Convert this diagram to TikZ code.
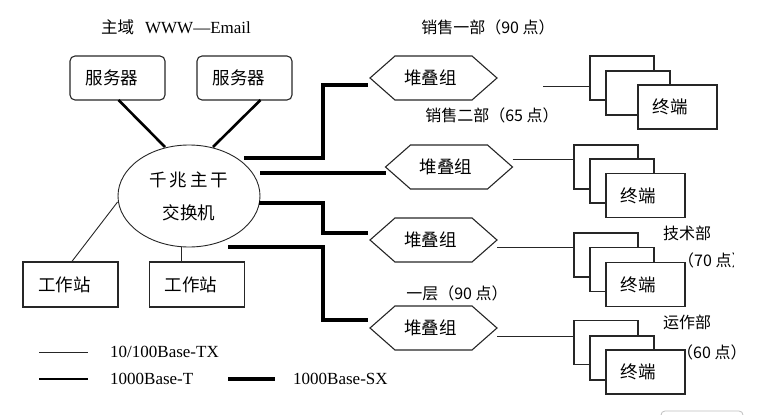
\documentclass[tikz,border=0pt]{standalone}
\usepackage{fontspec}
\setmainfont{Liberation Serif}
\newfontfamily\cjk{Noto Sans CJK SC}
\usetikzlibrary{shapes.geometric,calc}
\begin{document}
\begin{tikzpicture}[x=1pt,y=-1pt,
  box/.style={draw=black!85, line width=1.1pt, inner sep=0pt, outer sep=0pt, font=\cjk\fontsize{17.5}{20}\selectfont},
  srv/.style={box, rounded corners=5pt, minimum width=95pt, minimum height=44pt},
  ws/.style={box, minimum width=95pt, minimum height=45pt},
  term/.style={box, fill=white, minimum width=64pt, minimum height=44pt},
  termc/.style={term, minimum width=79pt},
  hexn/.style={inner sep=0pt, outer sep=0pt, minimum width=127pt, minimum height=44pt, font=\cjk\fontsize{17.5}{20}\selectfont},
  hexline/.style={line width=1.1pt, draw=black!85},
  lbl/.style={inner sep=0pt, font=\cjk\fontsize{16}{19}\selectfont},
  leg/.style={inner sep=0pt, anchor=west, font=\fontsize{17}{20}\selectfont},
  tx/.style={line width=0.9pt, draw=black!85},
  bt/.style={line width=2.6pt, draw=black},
  sx/.style={line width=4pt, draw=black},
]
\useasboundingbox (0,0) rectangle (769,415);

% title and labels
\node[inner sep=0pt, font=\fontsize{17}{20}\selectfont] (title) at (176,27) {{\cjk\fontsize{16.5}{19}\selectfont 主域}\hspace{11pt}WWW—Email};
\node[lbl] (l1) at (488,27) {销售一部（90 点）};
\node[lbl] (l2) at (492,115) {销售二部（65 点）};
\node[lbl] (l5) at (457,293) {一层（90 点）};

% servers, switch, workstations
\node[srv] (s1) at (117.5,78) {服务器\hspace*{11pt}};
\node[srv] (s2) at (244.5,78) {服务器\hspace*{11pt}};
\node[draw=black!85, line width=0.9pt, ellipse, minimum width=142pt, minimum height=102pt, inner sep=0pt, align=center, font=\cjk\fontsize{17.5}{33}\selectfont] (e) at (189,196) {千\kern3pt 兆\kern3pt 主\kern3pt 干\\交换机};
\node[ws] (w1) at (70.5,284.5) {工作站\hspace*{12pt}};
\node[ws] (w2) at (197,284.5) {工作站\hspace*{12pt}};

\draw[bt] ($(s1.south)+(1,0)$) -- ($(e.center)+(-24,-49)$);
\draw[bt] ($(s2.south)+(16,0)$) -- ($(e.center)+(24,-49)$);
\draw[tx] ($(w1.north)+(1,0)$) -- ($(e.west)+(0,6)$);
\draw[tx] ($(e.south)+(-8,0)$) -- ($(w2.north)+(-16,0)$);

% stacking groups
\node[hexn] (h1) at (433.5,78) {堆叠组\hspace*{6pt}};
\node[hexn] (h2) at (449,167) {堆叠组\hspace*{6pt}};
\node[hexn] (h3) at (433.5,240) {堆叠组\hspace*{6pt}};
\node[hexn] (h4) at (433.5,328) {堆叠组\hspace*{6pt}};
\foreach \h in {h1,h2,h3,h4}
  \draw[hexline] ([xshift=25pt]\h.north west) -- ([xshift=-25pt]\h.north east) -- (\h.east)
    -- ([xshift=-25pt]\h.south east) -- ([xshift=25pt]\h.south west) -- (\h.west) -- cycle;

% backbone links
\coordinate (bx) at (323,0);
\coordinate (a1) at ($(e.center)+(55,-38)$);
\coordinate (a2) at ($(e.center)+(71,-23)$);
\coordinate (a3) at ($(e.center)+(70,7)$);
\coordinate (a4) at ($(e.center)+(39,51)$);
\coordinate (b1) at ($(h1.west)+(-2,7)$);
\coordinate (b2) at ($(h2.west)+(0,6)$);
\coordinate (b3) at ($(h3.west)+(-2,-7)$);
\coordinate (b4) at ($(h4.west)+(-2,-8)$);
\draw[sx] (a1) -| (bx |- b1) -- (b1);
\draw[sx] (a2) -- (b2);
\draw[sx] (a3) -| (bx |- b3) -- (b3);
\draw[sx] (a4) -| (bx |- b4) -- (b4);

% terminal stacks
\node[term] (t1a) at (622,78) {};
\node[term] (t1b) at (638,93) {};
\node[termc] (t1c) at (677.5,107) {终端\hspace*{15pt}};
\node[term] (t2a) at (606,167) {};
\node[term] (t2b) at (622,181) {};
\node[termc] (t2c) at (645.5,195.5) {终端\hspace*{15pt}};
\node[term] (t3a) at (606,255) {};
\node[term] (t3b) at (622,269.5) {};
\node[termc] (t3c) at (645.5,284.5) {终端\hspace*{15pt}};
\node[term] (t4a) at (606,342.5) {};
\node[term] (t4b) at (622,358) {};
\node[termc] (t4c) at (645.5,372) {终端\hspace*{15pt}};

% access links
\coordinate (c1) at (543,86);
\coordinate (c2) at ($(h2.east)+(0,-8)$);
\coordinate (c3) at ($(h3.east)+(0,7)$);
\coordinate (c4) at ($(h4.east)+(0,8)$);
\draw[tx] (c1) -- (c1 -| t1a.west);
\draw[tx] (c2) -- (c2 -| t2a.west);
\draw[tx] (c3) -- (c3 -| t3a.west);
\draw[tx] (c4) -- (c4 -| t4a.west);

\node[lbl] (l3) at (687,233) {技术部};
\begin{scope}
  \clip (0,0) rectangle (733,415);
  \node[lbl, anchor=west] (l4) at (678,260) {（70 点）};
\end{scope}
\node[lbl] (l6) at (687,322) {运作部};
\node[lbl, anchor=west] (l7) at (677,352) {（60 点）};

% legend
\coordinate (g1a) at (39,352); \coordinate (g1b) at (88,352);
\coordinate (g2a) at (39,379); \coordinate (g2b) at (88,379);
\coordinate (g3a) at (228,379); \coordinate (g3b) at (275,379);
\draw[tx] (g1a) -- (g1b);
\draw[bt] (g2a) -- (g2b);
\draw[sx] (g3a) -- (g3b);
\node[leg] (k1) at (110,352) {10/100Base-TX};
\node[leg] (k2) at (110,379) {1000Base-T};
\node[leg] (k3) at (293,379) {1000Base-SX};

% faint cut-off frame at bottom right
\draw[black!25, line width=0.8pt, rounded corners=4pt] (661,420) -- (661,411) -- (743,411) -- (743,420);
\end{tikzpicture}
\end{document}
